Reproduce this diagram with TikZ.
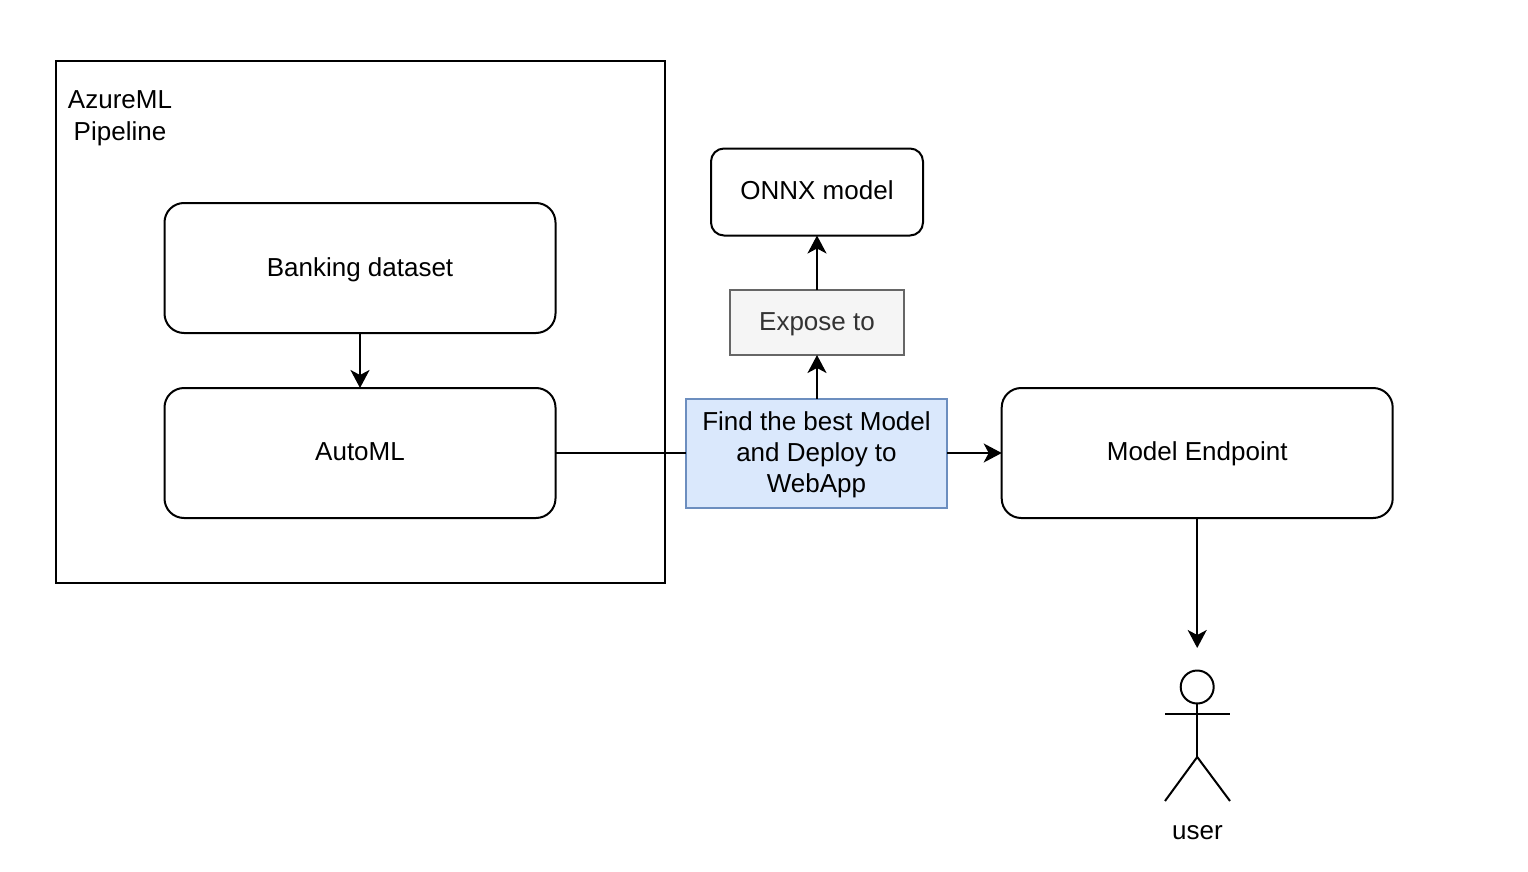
\documentclass[tikz,border=0pt]{standalone}
\usepackage{fontspec}
\setmainfont{Liberation Sans}
\usetikzlibrary{arrows.meta}
\definecolor{bluefill}{HTML}{DAE8FC}
\definecolor{blueline}{HTML}{6C8EBF}
\definecolor{greyfill}{HTML}{F5F5F5}
\definecolor{greyline}{HTML}{666666}
\definecolor{greytext}{HTML}{333333}
\newcommand\lab[1]{\raisebox{-7.5pt}[0pt][0pt]{#1}}
\tikzset{
  x=1pt,y=-1pt,
  every node/.style={font=\fontsize{26}{31}\selectfont,align=center,inner sep=0pt,outer sep=0pt},
  rbox/.style={draw=black,line width=2pt,rounded corners=19.5pt,minimum width=391pt,minimum height=130pt},
  link/.style={draw=black,line width=2pt,-{Stealth[length=18pt,width=19pt,inset=5pt]}},
  plain/.style={draw=black,line width=2pt},
}
\begin{document}
\begin{tikzpicture}
\useasboundingbox (0,0) rectangle (1528,872);
\fill[white] (0,0) rectangle (1528,872);
\node[draw=black,line width=2pt,minimum width=609pt,minimum height=522pt] (pipe) at (360,322) {};
\node[font=\fontsize{26}{32}\selectfont] (pipelabel) at (120,118) {AzureML\\Pipeline};
\node[rbox] (data) at (360,268) {\raisebox{-8.5pt}[0pt][0pt]{Banking dataset}};
\node[rbox] (auto) at (360,453) {\lab{AutoML}};
\node[rbox] (end) at (1197.2,453) {\lab{Model Endpoint}};
\node[draw=black,line width=2pt,rounded corners=13pt,minimum width=212pt,minimum height=87pt] (onnx) at (817,192) {\lab{ONNX model}};
\node[draw=greyline,fill=greyfill,text=greytext,line width=2pt,minimum width=174pt,minimum height=65pt] (expose) at (817,322.5) {\lab{Expose to}};
\node[draw=blueline,fill=bluefill,line width=2pt,minimum width=261pt,minimum height=109pt] (find) at (816.5,453) {};
\node (findtext) at (816.5,455) {Find the best Model\\and Deploy to\\WebApp};
% stick figure
\coordinate (headc) at (1197.2,687);
\node[draw=black,circle,line width=2pt,minimum size=33pt] (head) at (headc) {};
\coordinate (hip) at (1197.2,757);
\coordinate (armL) at (1165,714);
\coordinate (armR) at (1230,714);
\coordinate (legL) at (1165,801);
\coordinate (legR) at (1230,801);
\coordinate (target) at (1197.2,648);
\draw[plain] (head.south) -- (hip);
\draw[plain] (armL) -- (armR);
\draw[plain] (legL) -- (hip) -- (legR);
\node (user) at (1197.5,833) {user};
\draw[link] (data) -- (auto);
\draw[plain] (auto.east) -- (find.west);
\draw[link] (find.east) -- (end.west);
\draw[link] (find.north -| expose) -- (expose.south);
\draw[link] (expose.north) -- (onnx.south);
\draw[link] (end.south) -- (target);
\end{tikzpicture}
\end{document}
